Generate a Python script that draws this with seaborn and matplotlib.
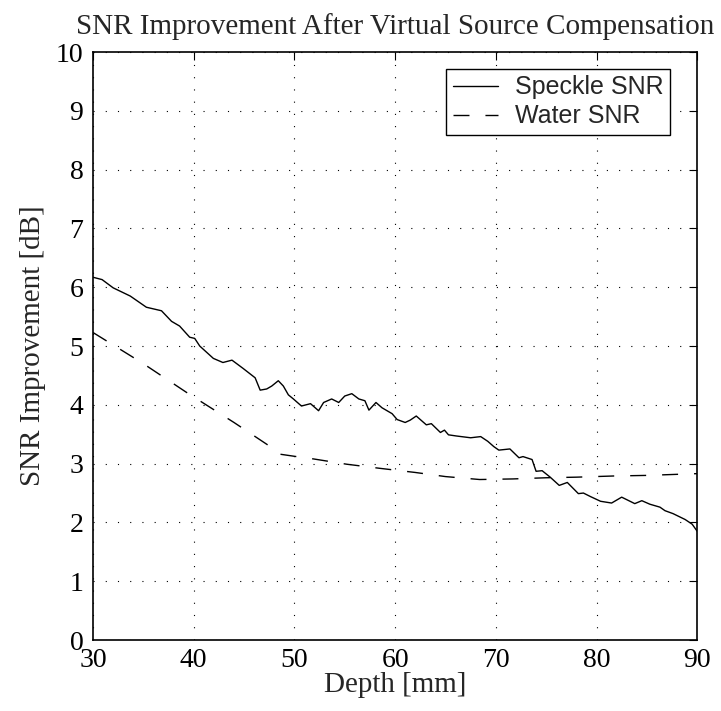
import numpy as np
import pandas as pd
import matplotlib
matplotlib.use("Agg")
import matplotlib.pyplot as plt
import seaborn as sns

# Speckle SNR improvement curve (depth mm, dB)
speckle_depth = [30.0, 30.9, 32.0, 33.7, 35.3, 36.8, 37.8, 38.6, 39.6, 40.1, 40.6, 41.95, 42.9, 43.8, 44.9,
                 46.1, 46.6, 47.25, 47.75, 48.4, 48.9, 49.4, 49.9, 50.7, 51.6, 52.4, 52.9, 53.7, 54.4,
                 55.0, 55.7, 56.4, 57.0, 57.4, 58.1, 58.7, 59.2, 59.7, 60.2, 61.0, 61.5, 62.1, 63.1,
                 63.6, 64.5, 64.9, 65.3, 66.1, 67.5, 68.5, 69.2, 69.8, 70.3, 71.4, 72.3, 72.7, 73.6,
                 74.0, 74.6, 75.4, 76.3, 77.1, 78.2, 78.7, 79.4, 80.4, 81.5, 82.5, 83.8, 84.5, 85.3,
                 86.3, 86.8, 87.6, 88.8, 89.5, 90.0]
speckle_snr = [6.17, 6.13, 5.99, 5.85, 5.66, 5.60, 5.42, 5.34, 5.15, 5.13, 5.00, 4.79, 4.72, 4.76, 4.62,
               4.46, 4.25, 4.27, 4.32, 4.41, 4.32, 4.17, 4.10, 3.98, 4.02, 3.90, 4.04, 4.10, 4.04,
               4.15, 4.19, 4.10, 4.07, 3.91, 4.04, 3.95, 3.90, 3.85, 3.75, 3.70, 3.74, 3.81, 3.66,
               3.68, 3.53, 3.57, 3.49, 3.47, 3.44, 3.46, 3.38, 3.29, 3.23, 3.25, 3.10, 3.12, 3.07,
               2.87, 2.88, 2.77, 2.63, 2.68, 2.49, 2.50, 2.44, 2.36, 2.33, 2.43, 2.32, 2.37, 2.31,
               2.26, 2.20, 2.15, 2.05, 1.97, 1.85]

# Water SNR improvement curve
water_depth = [30.0, 35.0, 39.3, 44.0, 47.25, 48.6, 50.2, 51.9, 55.2, 58.5, 62.0, 65.0, 68.4, 71.7,
               75.0, 78.0, 81.7, 85.0, 88.3, 90.0]
water_snr = [5.23, 4.70, 4.21, 3.70, 3.33, 3.16, 3.12, 3.08, 2.99, 2.92, 2.85, 2.78, 2.73, 2.74,
             2.76, 2.77, 2.79, 2.80, 2.82, 2.83]

x_ticks = [30, 40, 50, 60, 70, 80, 90]
y_ticks = [0, 1, 2, 3, 4, 5, 6, 7, 8, 9, 10]

df = pd.concat([
    pd.DataFrame({"Depth": speckle_depth, "SNR": speckle_snr, "Series": "Speckle SNR"}),
    pd.DataFrame({"Depth": water_depth, "SNR": water_snr, "Series": "Water SNR"}),
])

sns.set_style("white")
plt.rcParams["font.family"] = ["Liberation Serif", "DejaVu Serif"]

fig = plt.figure(figsize=(7.21, 7.11), dpi=100)
ax = fig.add_axes([0.129, 0.0998, 0.838, 0.827])

sns.lineplot(data=df, x="Depth", y="SNR", hue="Series", style="Series",
             palette={"Speckle SNR": "black", "Water SNR": "black"},
             dashes={"Speckle SNR": "", "Water SNR": (11.5, 11.5)},
             linewidth=1.0, ax=ax, sort=False, estimator=None)

ax.set_xlim(30, 90)
ax.set_ylim(0, 10)
ax.set_xticks(x_ticks)
ax.set_yticks(y_ticks)
ax.tick_params(direction="in", top=True, right=True, length=6, width=0.8,
               labelsize=20, colors="black")
ax.tick_params(axis="x", pad=6)
ax.tick_params(axis="y", pad=7)
ax.grid(True, color="black", linestyle=(0, (1, 10)), linewidth=0.8)
for s in ax.spines.values():
    s.set_color("black")
    s.set_linewidth(1.2)

ax.set_xlabel("Depth [mm]", fontsize=21, labelpad=-1)
ax.set_ylabel("SNR Improvement [dB]", fontsize=21, labelpad=7)
ax.set_title("SNR Improvement After Virtual Source Compensation", fontsize=21, pad=13)

leg = ax.legend(loc="upper right", bbox_to_anchor=(0.955, 0.971), borderaxespad=0,
                frameon=True, fancybox=False, edgecolor="black", framealpha=1,
                borderpad=0.25, labelspacing=0.2, handlelength=1.8, handletextpad=0.7,
                prop={"family": "Liberation Sans", "size": 18})
leg.get_frame().set_linewidth(1.0)

fig.savefig("out.png", dpi=100)
